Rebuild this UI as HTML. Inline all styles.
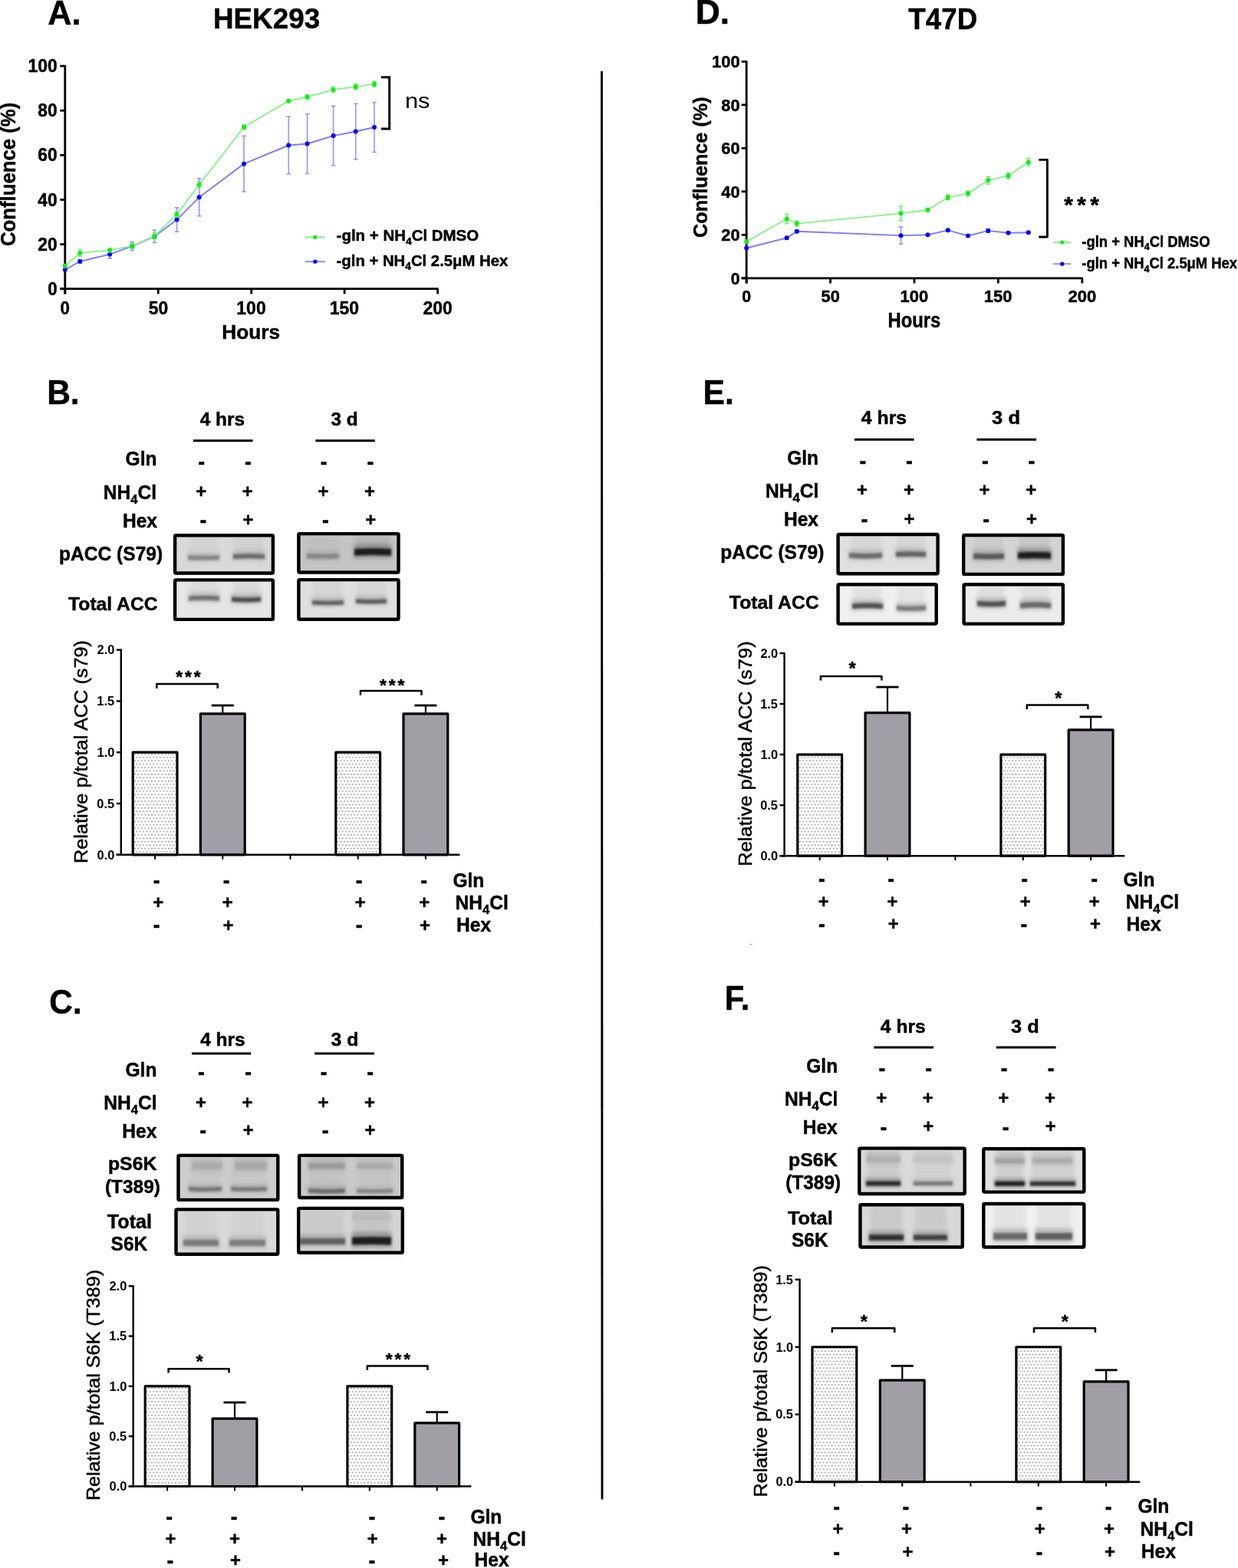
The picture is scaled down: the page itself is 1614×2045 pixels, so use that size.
<!DOCTYPE html><html><head><meta charset="utf-8"><style>html,body{margin:0;padding:0;background:#fff;}svg{display:block;}text{font-family:'Liberation Sans', Arial, Helvetica, sans-serif;}text[font-weight=bold]{stroke:#000;stroke-width:0.45px;stroke-linejoin:round;}</style></head><body>
<svg width="1614" height="2045" viewBox="0 0 1614 2045">
<defs><filter id="bl" x="-20%" y="-60%" width="140%" height="220%"><feGaussianBlur stdDeviation="1.5"/></filter><filter id="bl2" x="-30%" y="-60%" width="160%" height="220%"><feGaussianBlur stdDeviation="2.6"/></filter><pattern id="dots" width="4.4" height="8.8" patternUnits="userSpaceOnUse"><rect width="4.4" height="8.8" fill="#fcfcfc"/><rect x="1.4" y="1.5" width="1.7" height="1.4" fill="#8c8c8c"/><rect x="3.6" y="5.9" width="1.7" height="1.4" fill="#8c8c8c"/><rect x="-0.8" y="5.9" width="1.7" height="1.4" fill="#8c8c8c"/></pattern></defs>
<rect width="1614" height="2045" fill="#fff"/>
<line x1="784.50" y1="92.80" x2="785.00" y2="1955.60" stroke="#000" stroke-width="2.90"/>
<text transform="translate(62.34,31.58) scale(0.9644,1)" font-size="44.87" font-weight="bold" fill="#000">A.</text>
<text transform="translate(277.93,37.30) scale(0.9737,1)" font-size="37.83" font-weight="bold" fill="#000">HEK293</text>
<text transform="translate(906.73,31.48) scale(0.9941,1)" font-size="44.72" font-weight="bold" fill="#000">D.</text>
<text transform="translate(1184.35,38.18) scale(0.9481,1)" font-size="38.78" font-weight="bold" fill="#000">T47D</text>
<line x1="84.80" y1="85.10" x2="84.80" y2="383.40" stroke="#000" stroke-width="2.80"/>
<line x1="78.30" y1="376.70" x2="571.60" y2="376.70" stroke="#000" stroke-width="2.80"/>
<line x1="78.30" y1="376.70" x2="84.80" y2="376.70" stroke="#000" stroke-width="2.80"/>
<line x1="78.30" y1="318.58" x2="84.80" y2="318.58" stroke="#000" stroke-width="2.80"/>
<line x1="78.30" y1="260.46" x2="84.80" y2="260.46" stroke="#000" stroke-width="2.80"/>
<line x1="78.30" y1="202.34" x2="84.80" y2="202.34" stroke="#000" stroke-width="2.80"/>
<line x1="78.30" y1="144.22" x2="84.80" y2="144.22" stroke="#000" stroke-width="2.80"/>
<line x1="78.30" y1="86.10" x2="84.80" y2="86.10" stroke="#000" stroke-width="2.80"/>
<line x1="84.80" y1="376.70" x2="84.80" y2="383.40" stroke="#000" stroke-width="2.80"/>
<line x1="206.25" y1="376.70" x2="206.25" y2="383.40" stroke="#000" stroke-width="2.80"/>
<line x1="327.70" y1="376.70" x2="327.70" y2="383.40" stroke="#000" stroke-width="2.80"/>
<line x1="449.15" y1="376.70" x2="449.15" y2="383.40" stroke="#000" stroke-width="2.80"/>
<line x1="570.60" y1="376.70" x2="570.60" y2="383.40" stroke="#000" stroke-width="2.80"/>
<text transform="translate(62.28,384.84) scale(0.9460,1)" font-size="23.61" font-weight="bold" fill="#000">0</text>
<text transform="translate(49.35,326.72) scale(0.9672,1)" font-size="23.61" font-weight="bold" fill="#000">20</text>
<text transform="translate(49.34,268.60) scale(0.9675,1)" font-size="23.61" font-weight="bold" fill="#000">40</text>
<text transform="translate(49.35,210.48) scale(0.9672,1)" font-size="23.61" font-weight="bold" fill="#000">60</text>
<text transform="translate(49.35,152.36) scale(0.9673,1)" font-size="23.61" font-weight="bold" fill="#000">80</text>
<text transform="translate(36.45,94.24) scale(0.9733,1)" font-size="23.61" font-weight="bold" fill="#000">100</text>
<text transform="translate(78.60,409.54) scale(0.9460,1)" font-size="23.61" font-weight="bold" fill="#000">0</text>
<text transform="translate(193.69,409.54) scale(0.9673,1)" font-size="23.61" font-weight="bold" fill="#000">50</text>
<text transform="translate(308.34,409.54) scale(0.9733,1)" font-size="23.61" font-weight="bold" fill="#000">100</text>
<text transform="translate(429.79,409.54) scale(0.9733,1)" font-size="23.61" font-weight="bold" fill="#000">150</text>
<text transform="translate(551.53,409.54) scale(0.9735,1)" font-size="23.61" font-weight="bold" fill="#000">200</text>
<path d="M104.23 338.63V343.28M101.43 338.63H107.03M101.43 343.28H107.03" stroke="#9494ff" stroke-width="1.6" fill="none" opacity="1"/>
<path d="M143.10 326.43V336.89M140.30 326.43H145.90M140.30 336.89H145.90" stroke="#9494ff" stroke-width="1.6" fill="none" opacity="1"/>
<path d="M172.24 315.67V326.72M169.44 315.67H175.04M169.44 326.72H175.04" stroke="#9494ff" stroke-width="1.6" fill="none" opacity="1"/>
<path d="M201.39 300.27V316.55M198.59 300.27H204.19M198.59 316.55H204.19" stroke="#9494ff" stroke-width="1.6" fill="none" opacity="1"/>
<path d="M230.54 270.92V302.31M227.74 270.92H233.34M227.74 302.31H233.34" stroke="#9494ff" stroke-width="1.6" fill="none" opacity="1"/>
<path d="M259.69 232.85V281.67M256.89 232.85H262.49M256.89 281.67H262.49" stroke="#9494ff" stroke-width="1.6" fill="none" opacity="1"/>
<path d="M317.98 177.35V250.00M315.18 177.35H320.78M315.18 250.00H320.78" stroke="#9494ff" stroke-width="1.6" fill="none" opacity="1"/>
<path d="M376.28 152.07V227.04M373.48 152.07H379.08M373.48 227.04H379.08" stroke="#9494ff" stroke-width="1.6" fill="none" opacity="1"/>
<path d="M400.57 148.58V226.46M397.77 148.58H403.37M397.77 226.46H403.37" stroke="#9494ff" stroke-width="1.6" fill="none" opacity="1"/>
<path d="M434.58 138.41V215.71M431.78 138.41H437.38M431.78 215.71H437.38" stroke="#9494ff" stroke-width="1.6" fill="none" opacity="1"/>
<path d="M463.72 135.21V207.86M460.92 135.21H466.52M460.92 207.86H466.52" stroke="#9494ff" stroke-width="1.6" fill="none" opacity="1"/>
<path d="M488.01 133.47V198.56M485.21 133.47H490.81M485.21 198.56H490.81" stroke="#9494ff" stroke-width="1.6" fill="none" opacity="1"/>
<path d="M84.80 351.71 L104.23 340.96 L143.10 331.66 L172.24 321.20 L201.39 308.41 L230.54 286.61 L259.69 257.26 L317.98 213.67 L376.28 189.55 L400.57 187.52 L434.58 177.06 L463.72 171.54 L488.01 166.01" stroke="#7a7aff" stroke-width="1.9" fill="none"/>
<circle cx="84.80" cy="351.71" r="3.0" fill="#0000ff"/>
<circle cx="104.23" cy="340.96" r="3.0" fill="#0000ff"/>
<circle cx="143.10" cy="331.66" r="3.0" fill="#0000ff"/>
<circle cx="172.24" cy="321.20" r="3.0" fill="#0000ff"/>
<circle cx="201.39" cy="308.41" r="3.0" fill="#0000ff"/>
<circle cx="230.54" cy="286.61" r="3.0" fill="#0000ff"/>
<circle cx="259.69" cy="257.26" r="3.0" fill="#0000ff"/>
<circle cx="317.98" cy="213.67" r="3.0" fill="#0000ff"/>
<circle cx="376.28" cy="189.55" r="3.0" fill="#0000ff"/>
<circle cx="400.57" cy="187.52" r="3.0" fill="#0000ff"/>
<circle cx="434.58" cy="177.06" r="3.0" fill="#0000ff"/>
<circle cx="463.72" cy="171.54" r="3.0" fill="#0000ff"/>
<circle cx="488.01" cy="166.01" r="3.0" fill="#0000ff"/>
<path d="M84.80 345.02V348.51M82.00 345.02H87.60M82.00 348.51H87.60" stroke="#6ef06e" stroke-width="1.6" fill="none" opacity="1"/>
<path d="M104.23 325.55V334.27M101.43 325.55H107.03M101.43 334.27H107.03" stroke="#6ef06e" stroke-width="1.6" fill="none" opacity="1"/>
<path d="M143.10 323.81V329.04M140.30 323.81H145.90M140.30 329.04H145.90" stroke="#6ef06e" stroke-width="1.6" fill="none" opacity="1"/>
<path d="M172.24 317.42V324.39M169.44 317.42H175.04M169.44 324.39H175.04" stroke="#6ef06e" stroke-width="1.6" fill="none" opacity="1"/>
<path d="M201.39 303.76V311.90M198.59 303.76H204.19M198.59 311.90H204.19" stroke="#6ef06e" stroke-width="1.6" fill="none" opacity="1"/>
<path d="M230.54 276.15V283.13M227.74 276.15H233.34M227.74 283.13H233.34" stroke="#6ef06e" stroke-width="1.6" fill="none" opacity="1"/>
<path d="M259.69 237.21V244.77M256.89 237.21H262.49M256.89 244.77H262.49" stroke="#6ef06e" stroke-width="1.6" fill="none" opacity="1"/>
<path d="M317.98 162.82V168.63M315.18 162.82H320.78M315.18 168.63H320.78" stroke="#6ef06e" stroke-width="1.6" fill="none" opacity="1"/>
<path d="M376.28 129.98V133.47M373.48 129.98H379.08M373.48 133.47H379.08" stroke="#6ef06e" stroke-width="1.6" fill="none" opacity="1"/>
<path d="M400.57 123.88V129.11M397.77 123.88H403.37M397.77 129.11H403.37" stroke="#6ef06e" stroke-width="1.6" fill="none" opacity="1"/>
<path d="M434.58 113.42V120.39M431.78 113.42H437.38M431.78 120.39H437.38" stroke="#6ef06e" stroke-width="1.6" fill="none" opacity="1"/>
<path d="M463.72 109.64V116.61M460.92 109.64H466.52M460.92 116.61H466.52" stroke="#6ef06e" stroke-width="1.6" fill="none" opacity="1"/>
<path d="M488.01 106.15V113.13M485.21 106.15H490.81M485.21 113.13H490.81" stroke="#6ef06e" stroke-width="1.6" fill="none" opacity="1"/>
<path d="M84.80 346.77 L104.23 329.91 L143.10 326.43 L172.24 320.90 L201.39 307.83 L230.54 279.64 L259.69 240.99 L317.98 165.72 L376.28 131.72 L400.57 126.49 L434.58 116.90 L463.72 113.13 L488.01 109.64" stroke="#86f486" stroke-width="1.9" fill="none"/>
<circle cx="84.80" cy="346.77" r="3.0" fill="#14eb14"/>
<circle cx="104.23" cy="329.91" r="3.0" fill="#14eb14"/>
<circle cx="143.10" cy="326.43" r="3.0" fill="#14eb14"/>
<circle cx="172.24" cy="320.90" r="3.0" fill="#14eb14"/>
<circle cx="201.39" cy="307.83" r="3.0" fill="#14eb14"/>
<circle cx="230.54" cy="279.64" r="3.0" fill="#14eb14"/>
<circle cx="259.69" cy="240.99" r="3.0" fill="#14eb14"/>
<circle cx="317.98" cy="165.72" r="3.0" fill="#14eb14"/>
<circle cx="376.28" cy="131.72" r="3.0" fill="#14eb14"/>
<circle cx="400.57" cy="126.49" r="3.0" fill="#14eb14"/>
<circle cx="434.58" cy="116.90" r="3.0" fill="#14eb14"/>
<circle cx="463.72" cy="113.13" r="3.0" fill="#14eb14"/>
<circle cx="488.01" cy="109.64" r="3.0" fill="#14eb14"/>
<line x1="973.20" y1="79.30" x2="973.20" y2="369.50" stroke="#000" stroke-width="2.80"/>
<line x1="966.70" y1="362.80" x2="1411.80" y2="362.80" stroke="#000" stroke-width="2.80"/>
<line x1="966.70" y1="362.80" x2="973.20" y2="362.80" stroke="#000" stroke-width="2.80"/>
<line x1="966.70" y1="306.30" x2="973.20" y2="306.30" stroke="#000" stroke-width="2.80"/>
<line x1="966.70" y1="249.80" x2="973.20" y2="249.80" stroke="#000" stroke-width="2.80"/>
<line x1="966.70" y1="193.30" x2="973.20" y2="193.30" stroke="#000" stroke-width="2.80"/>
<line x1="966.70" y1="136.80" x2="973.20" y2="136.80" stroke="#000" stroke-width="2.80"/>
<line x1="966.70" y1="80.30" x2="973.20" y2="80.30" stroke="#000" stroke-width="2.80"/>
<line x1="973.20" y1="362.80" x2="973.20" y2="369.50" stroke="#000" stroke-width="2.80"/>
<line x1="1082.60" y1="362.80" x2="1082.60" y2="369.50" stroke="#000" stroke-width="2.80"/>
<line x1="1192.00" y1="362.80" x2="1192.00" y2="369.50" stroke="#000" stroke-width="2.80"/>
<line x1="1301.40" y1="362.80" x2="1301.40" y2="369.50" stroke="#000" stroke-width="2.80"/>
<line x1="1410.80" y1="362.80" x2="1410.80" y2="369.50" stroke="#000" stroke-width="2.80"/>
<text transform="translate(952.77,370.60) scale(0.9453,1)" font-size="22.62" font-weight="bold" fill="#000">0</text>
<text transform="translate(940.36,314.10) scale(0.9675,1)" font-size="22.62" font-weight="bold" fill="#000">20</text>
<text transform="translate(940.35,257.60) scale(0.9679,1)" font-size="22.62" font-weight="bold" fill="#000">40</text>
<text transform="translate(940.36,201.10) scale(0.9675,1)" font-size="22.62" font-weight="bold" fill="#000">60</text>
<text transform="translate(940.36,144.60) scale(0.9676,1)" font-size="22.62" font-weight="bold" fill="#000">80</text>
<text transform="translate(927.98,88.10) scale(0.9739,1)" font-size="22.62" font-weight="bold" fill="#000">100</text>
<text transform="translate(967.27,394.25) scale(0.9453,1)" font-size="22.62" font-weight="bold" fill="#000">0</text>
<text transform="translate(1070.56,394.25) scale(0.9676,1)" font-size="22.62" font-weight="bold" fill="#000">50</text>
<text transform="translate(1173.44,394.25) scale(0.9739,1)" font-size="22.62" font-weight="bold" fill="#000">100</text>
<text transform="translate(1282.84,394.25) scale(0.9739,1)" font-size="22.62" font-weight="bold" fill="#000">150</text>
<text transform="translate(1392.51,394.25) scale(0.9741,1)" font-size="22.62" font-weight="bold" fill="#000">200</text>
<path d="M1025.71 308.28V312.23M1022.91 308.28H1028.51M1022.91 312.23H1028.51" stroke="#9494ff" stroke-width="1.6" fill="none" opacity="1"/>
<path d="M1038.84 300.08V303.47M1036.04 300.08H1041.64M1036.04 303.47H1041.64" stroke="#9494ff" stroke-width="1.6" fill="none" opacity="1"/>
<path d="M1174.50 296.13V318.17M1171.70 296.13H1177.30M1171.70 318.17H1177.30" stroke="#9494ff" stroke-width="1.6" fill="none" opacity="1"/>
<path d="M1209.50 305.45V307.15M1206.70 305.45H1212.30M1206.70 307.15H1212.30" stroke="#9494ff" stroke-width="1.6" fill="none" opacity="1"/>
<path d="M1235.76 298.95V301.78M1232.96 298.95H1238.56M1232.96 301.78H1238.56" stroke="#9494ff" stroke-width="1.6" fill="none" opacity="1"/>
<path d="M1262.02 306.30V308.56M1259.22 306.30H1264.82M1259.22 308.56H1264.82" stroke="#9494ff" stroke-width="1.6" fill="none" opacity="1"/>
<path d="M1288.27 298.67V303.19M1285.47 298.67H1291.07M1285.47 303.19H1291.07" stroke="#9494ff" stroke-width="1.6" fill="none" opacity="1"/>
<path d="M1314.53 302.91V304.61M1311.73 302.91H1317.33M1311.73 304.61H1317.33" stroke="#9494ff" stroke-width="1.6" fill="none" opacity="1"/>
<path d="M1340.78 302.34V304.04M1337.98 302.34H1343.58M1337.98 304.04H1343.58" stroke="#9494ff" stroke-width="1.6" fill="none" opacity="1"/>
<path d="M973.20 323.53 L1025.71 310.25 L1038.84 301.78 L1174.50 307.15 L1209.50 306.30 L1235.76 300.37 L1262.02 307.43 L1288.27 300.93 L1314.53 303.76 L1340.78 303.19" stroke="#7a7aff" stroke-width="1.9" fill="none"/>
<circle cx="973.20" cy="323.53" r="3.0" fill="#0000ff"/>
<circle cx="1025.71" cy="310.25" r="3.0" fill="#0000ff"/>
<circle cx="1038.84" cy="301.78" r="3.0" fill="#0000ff"/>
<circle cx="1174.50" cy="307.15" r="3.0" fill="#0000ff"/>
<circle cx="1209.50" cy="306.30" r="3.0" fill="#0000ff"/>
<circle cx="1235.76" cy="300.37" r="3.0" fill="#0000ff"/>
<circle cx="1262.02" cy="307.43" r="3.0" fill="#0000ff"/>
<circle cx="1288.27" cy="300.93" r="3.0" fill="#0000ff"/>
<circle cx="1314.53" cy="303.76" r="3.0" fill="#0000ff"/>
<circle cx="1340.78" cy="303.19" r="3.0" fill="#0000ff"/>
<path d="M973.20 312.80V317.32M970.40 312.80H976.00M970.40 317.32H976.00" stroke="#6ef06e" stroke-width="1.6" fill="none" opacity="1"/>
<path d="M1025.71 279.18V291.61M1022.91 279.18H1028.51M1022.91 291.61H1028.51" stroke="#6ef06e" stroke-width="1.6" fill="none" opacity="1"/>
<path d="M1038.84 287.94V295.28M1036.04 287.94H1041.64M1036.04 295.28H1041.64" stroke="#6ef06e" stroke-width="1.6" fill="none" opacity="1"/>
<path d="M1174.50 269.01V287.65M1171.70 269.01H1177.30M1171.70 287.65H1177.30" stroke="#6ef06e" stroke-width="1.6" fill="none" opacity="1"/>
<path d="M1209.50 271.55V276.07M1206.70 271.55H1212.30M1206.70 276.07H1212.30" stroke="#6ef06e" stroke-width="1.6" fill="none" opacity="1"/>
<path d="M1235.76 254.04V260.82M1232.96 254.04H1238.56M1232.96 260.82H1238.56" stroke="#6ef06e" stroke-width="1.6" fill="none" opacity="1"/>
<path d="M1262.02 249.24V255.45M1259.22 249.24H1264.82M1259.22 255.45H1264.82" stroke="#6ef06e" stroke-width="1.6" fill="none" opacity="1"/>
<path d="M1288.27 230.31V239.91M1285.47 230.31H1291.07M1285.47 239.91H1291.07" stroke="#6ef06e" stroke-width="1.6" fill="none" opacity="1"/>
<path d="M1314.53 225.50V232.85M1311.73 225.50H1317.33M1311.73 232.85H1317.33" stroke="#6ef06e" stroke-width="1.6" fill="none" opacity="1"/>
<path d="M1340.78 206.86V216.47M1337.98 206.86H1343.58M1337.98 216.47H1343.58" stroke="#6ef06e" stroke-width="1.6" fill="none" opacity="1"/>
<path d="M973.20 315.06 L1025.71 285.39 L1038.84 291.61 L1174.50 278.33 L1209.50 273.81 L1235.76 257.43 L1262.02 252.34 L1288.27 235.11 L1314.53 229.18 L1340.78 211.66" stroke="#86f486" stroke-width="1.9" fill="none"/>
<circle cx="973.20" cy="315.06" r="3.0" fill="#14eb14"/>
<circle cx="1025.71" cy="285.39" r="3.0" fill="#14eb14"/>
<circle cx="1038.84" cy="291.61" r="3.0" fill="#14eb14"/>
<circle cx="1174.50" cy="278.33" r="3.0" fill="#14eb14"/>
<circle cx="1209.50" cy="273.81" r="3.0" fill="#14eb14"/>
<circle cx="1235.76" cy="257.43" r="3.0" fill="#14eb14"/>
<circle cx="1262.02" cy="252.34" r="3.0" fill="#14eb14"/>
<circle cx="1288.27" cy="235.11" r="3.0" fill="#14eb14"/>
<circle cx="1314.53" cy="229.18" r="3.0" fill="#14eb14"/>
<circle cx="1340.78" cy="211.66" r="3.0" fill="#14eb14"/>
<text transform="translate(289.31,441.52) scale(1.0239,1)" font-size="25.66" font-weight="bold" fill="#000">Hours</text>
<text transform="translate(1157.47,427.01) scale(0.8705,1)" font-size="27.37" font-weight="bold" fill="#000">Hours</text>
<text transform="translate(20.48,321.11) rotate(-90) scale(0.9505,1)" font-size="27.12" font-weight="bold" fill="#000">Confluence (%)</text>
<text transform="translate(921.96,309.99) rotate(-90) scale(0.9608,1)" font-size="26.27" font-weight="bold" fill="#000">Confluence (%)</text>
<path d="M496.9 100.8H507.7V168.1H496.9" stroke="#000" stroke-width="3" fill="none"/>
<path d="M1354.3 208.4H1365.4V309H1354.3" stroke="#000" stroke-width="2.9" fill="none" stroke-linejoin="round"/>
<text transform="translate(527.89,141.32) scale(1.0891,1)" font-size="28.36" font-weight="normal" fill="#000">ns</text>
<text transform="translate(1387.25,277.10) scale(1.0000,1)" font-size="30.00" font-weight="bold" letter-spacing="5.38">***</text>
<line x1="397.80" y1="309.40" x2="423.80" y2="309.40" stroke="#86f486" stroke-width="2.20"/>
<circle cx="410.80" cy="309.40" r="2.6" fill="#14eb14"/>
<text transform="translate(438.58,314.30) scale(1.0456,1)" font-size="19.57" font-weight="bold">-gln + NH<tspan font-size="13.30" dy="4.59">4</tspan><tspan dy="-4.59">Cl DMSO</tspan></text>
<line x1="397.80" y1="341.20" x2="423.80" y2="341.20" stroke="#9494ff" stroke-width="2.20"/>
<circle cx="410.80" cy="341.20" r="2.6" fill="#0000ff"/>
<text transform="translate(438.59,347.30) scale(0.9804,1)" font-size="20.72" font-weight="bold">-gln + NH<tspan font-size="14.09" dy="4.86">4</tspan><tspan dy="-4.86">Cl 2.5μM Hex</tspan></text>
<line x1="1373.40" y1="316.00" x2="1396.10" y2="316.00" stroke="#86f486" stroke-width="2.20"/>
<circle cx="1384.75" cy="316.00" r="2.6" fill="#14eb14"/>
<text transform="translate(1410.36,321.50) scale(0.9415,1)" font-size="19.57" font-weight="bold">-gln + NH<tspan font-size="13.30" dy="4.59">4</tspan><tspan dy="-4.59">Cl DMSO</tspan></text>
<line x1="1373.40" y1="344.20" x2="1396.10" y2="344.20" stroke="#9494ff" stroke-width="2.20"/>
<circle cx="1384.75" cy="344.20" r="2.6" fill="#0000ff"/>
<text transform="translate(1410.36,350.20) scale(0.9403,1)" font-size="19.57" font-weight="bold">-gln + NH<tspan font-size="13.30" dy="4.59">4</tspan><tspan dy="-4.59">Cl 2.5μM Hex</tspan></text>
<text transform="translate(61.16,526.58) scale(0.9595,1)" font-size="44.29" font-weight="bold" fill="#000">B.</text>
<text transform="translate(64.33,1322.24) scale(0.9550,1)" font-size="44.31" font-weight="bold" fill="#000">C.</text>
<text transform="translate(916.55,526.58) scale(0.9665,1)" font-size="44.14" font-weight="bold" fill="#000">E.</text>
<text transform="translate(944.79,1317.48) scale(0.9535,1)" font-size="44.00" font-weight="bold" fill="#000">F.</text>
<text transform="translate(260.75,555.34) scale(1.0039,1)" font-size="24.30" font-weight="bold" fill="#000">4 hrs</text>
<text transform="translate(431.51,555.34) scale(1.0155,1)" font-size="24.03" font-weight="bold" fill="#000">3 d</text>
<line x1="251.90" y1="574.80" x2="329.60" y2="574.80" stroke="#000" stroke-width="3.00"/>
<line x1="411.30" y1="574.80" x2="488.80" y2="574.80" stroke="#000" stroke-width="3.00"/>
<text transform="translate(163.57,607.30) scale(0.9750,1)" font-size="25.20" font-weight="bold">Gln</text>
<text transform="translate(134.77,650.80) scale(0.9750,1)" font-size="25.20" font-weight="bold">NH<tspan font-size="17.14" dy="5.91">4</tspan><tspan dy="-5.91">Cl</tspan></text>
<text transform="translate(159.94,687.80) scale(0.9750,1)" font-size="25.20" font-weight="bold">Hex</text>
<text transform="translate(258.16,612.30) scale(0.9194,1)" font-size="28.83" font-weight="bold" fill="#000">-</text>
<text transform="translate(318.96,612.30) scale(0.9194,1)" font-size="28.83" font-weight="bold" fill="#000">-</text>
<text transform="translate(417.86,612.30) scale(0.9194,1)" font-size="28.83" font-weight="bold" fill="#000">-</text>
<text transform="translate(478.56,612.30) scale(0.9194,1)" font-size="28.83" font-weight="bold" fill="#000">-</text>
<text transform="translate(255.31,649.07) scale(1.0269,1)" font-size="23.25" font-weight="bold" fill="#000">+</text>
<text transform="translate(315.71,649.07) scale(1.0269,1)" font-size="23.25" font-weight="bold" fill="#000">+</text>
<text transform="translate(414.61,649.07) scale(1.0269,1)" font-size="23.25" font-weight="bold" fill="#000">+</text>
<text transform="translate(475.01,649.07) scale(1.0269,1)" font-size="23.25" font-weight="bold" fill="#000">+</text>
<text transform="translate(260.56,687.80) scale(0.9194,1)" font-size="28.83" font-weight="bold" fill="#000">-</text>
<text transform="translate(316.61,685.87) scale(1.0269,1)" font-size="23.25" font-weight="bold" fill="#000">+</text>
<text transform="translate(420.06,687.80) scale(0.9194,1)" font-size="28.83" font-weight="bold" fill="#000">-</text>
<text transform="translate(476.21,685.87) scale(1.0269,1)" font-size="23.25" font-weight="bold" fill="#000">+</text>
<text transform="translate(261.15,1363.64) scale(1.0092,1)" font-size="24.30" font-weight="bold" fill="#000">4 hrs</text>
<text transform="translate(431.60,1363.64) scale(1.0223,1)" font-size="24.30" font-weight="bold" fill="#000">3 d</text>
<line x1="250.00" y1="1374.00" x2="327.20" y2="1374.00" stroke="#000" stroke-width="3.00"/>
<line x1="410.10" y1="1374.00" x2="487.80" y2="1374.00" stroke="#000" stroke-width="3.00"/>
<text transform="translate(163.47,1403.50) scale(0.9750,1)" font-size="25.20" font-weight="bold">Gln</text>
<text transform="translate(135.27,1446.60) scale(0.9750,1)" font-size="25.20" font-weight="bold">NH<tspan font-size="17.14" dy="5.91">4</tspan><tspan dy="-5.91">Cl</tspan></text>
<text transform="translate(159.34,1483.50) scale(0.9750,1)" font-size="25.20" font-weight="bold">Hex</text>
<text transform="translate(258.06,1407.80) scale(0.9194,1)" font-size="28.83" font-weight="bold" fill="#000">-</text>
<text transform="translate(319.26,1407.80) scale(0.9194,1)" font-size="28.83" font-weight="bold" fill="#000">-</text>
<text transform="translate(417.66,1407.80) scale(0.9194,1)" font-size="28.83" font-weight="bold" fill="#000">-</text>
<text transform="translate(478.16,1407.80) scale(0.9194,1)" font-size="28.83" font-weight="bold" fill="#000">-</text>
<text transform="translate(255.01,1445.67) scale(1.0269,1)" font-size="23.25" font-weight="bold" fill="#000">+</text>
<text transform="translate(315.51,1445.67) scale(1.0269,1)" font-size="23.25" font-weight="bold" fill="#000">+</text>
<text transform="translate(414.41,1445.67) scale(1.0269,1)" font-size="23.25" font-weight="bold" fill="#000">+</text>
<text transform="translate(474.91,1445.67) scale(1.0269,1)" font-size="23.25" font-weight="bold" fill="#000">+</text>
<text transform="translate(260.36,1483.70) scale(0.9194,1)" font-size="28.83" font-weight="bold" fill="#000">-</text>
<text transform="translate(316.71,1482.17) scale(1.0269,1)" font-size="23.25" font-weight="bold" fill="#000">+</text>
<text transform="translate(419.76,1483.70) scale(0.9194,1)" font-size="28.83" font-weight="bold" fill="#000">-</text>
<text transform="translate(475.61,1482.17) scale(1.0269,1)" font-size="23.25" font-weight="bold" fill="#000">+</text>
<text transform="translate(1122.75,553.33) scale(1.0120,1)" font-size="24.57" font-weight="bold" fill="#000">4 hrs</text>
<text transform="translate(1293.08,553.33) scale(1.0410,1)" font-size="24.57" font-weight="bold" fill="#000">3 d</text>
<line x1="1113.90" y1="573.30" x2="1191.60" y2="573.30" stroke="#000" stroke-width="3.00"/>
<line x1="1273.40" y1="573.30" x2="1351.10" y2="573.30" stroke="#000" stroke-width="3.00"/>
<text transform="translate(1026.17,605.60) scale(0.9750,1)" font-size="25.20" font-weight="bold">Gln</text>
<text transform="translate(997.97,648.90) scale(0.9750,1)" font-size="25.20" font-weight="bold">NH<tspan font-size="17.14" dy="5.91">4</tspan><tspan dy="-5.91">Cl</tspan></text>
<text transform="translate(1021.94,685.70) scale(0.9750,1)" font-size="25.20" font-weight="bold">Hex</text>
<text transform="translate(1120.56,610.60) scale(0.9194,1)" font-size="28.83" font-weight="bold" fill="#000">-</text>
<text transform="translate(1181.06,610.60) scale(0.9194,1)" font-size="28.83" font-weight="bold" fill="#000">-</text>
<text transform="translate(1280.06,610.60) scale(0.9194,1)" font-size="28.83" font-weight="bold" fill="#000">-</text>
<text transform="translate(1340.56,610.60) scale(0.9194,1)" font-size="28.83" font-weight="bold" fill="#000">-</text>
<text transform="translate(1117.01,647.47) scale(1.0269,1)" font-size="23.25" font-weight="bold" fill="#000">+</text>
<text transform="translate(1178.01,647.47) scale(1.0269,1)" font-size="23.25" font-weight="bold" fill="#000">+</text>
<text transform="translate(1276.61,647.47) scale(1.0269,1)" font-size="23.25" font-weight="bold" fill="#000">+</text>
<text transform="translate(1337.21,647.47) scale(1.0269,1)" font-size="23.25" font-weight="bold" fill="#000">+</text>
<text transform="translate(1122.56,686.90) scale(0.9194,1)" font-size="28.83" font-weight="bold" fill="#000">-</text>
<text transform="translate(1178.51,685.07) scale(1.0269,1)" font-size="23.25" font-weight="bold" fill="#000">+</text>
<text transform="translate(1281.26,686.90) scale(0.9194,1)" font-size="28.83" font-weight="bold" fill="#000">-</text>
<text transform="translate(1338.01,685.07) scale(1.0269,1)" font-size="23.25" font-weight="bold" fill="#000">+</text>
<text transform="translate(1147.85,1346.63) scale(1.0032,1)" font-size="24.57" font-weight="bold" fill="#000">4 hrs</text>
<text transform="translate(1318.09,1346.63) scale(1.0320,1)" font-size="24.57" font-weight="bold" fill="#000">3 d</text>
<line x1="1139.40" y1="1366.10" x2="1217.10" y2="1366.10" stroke="#000" stroke-width="3.00"/>
<line x1="1298.90" y1="1366.10" x2="1376.60" y2="1366.10" stroke="#000" stroke-width="3.00"/>
<text transform="translate(1051.27,1398.80) scale(0.9750,1)" font-size="25.20" font-weight="bold">Gln</text>
<text transform="translate(1023.07,1441.80) scale(0.9750,1)" font-size="25.20" font-weight="bold">NH<tspan font-size="17.14" dy="5.91">4</tspan><tspan dy="-5.91">Cl</tspan></text>
<text transform="translate(1046.64,1478.60) scale(0.9750,1)" font-size="25.20" font-weight="bold">Hex</text>
<text transform="translate(1145.56,1403.40) scale(0.9194,1)" font-size="28.83" font-weight="bold" fill="#000">-</text>
<text transform="translate(1206.16,1403.40) scale(0.9194,1)" font-size="28.83" font-weight="bold" fill="#000">-</text>
<text transform="translate(1304.66,1403.40) scale(0.9194,1)" font-size="28.83" font-weight="bold" fill="#000">-</text>
<text transform="translate(1365.66,1403.40) scale(0.9194,1)" font-size="28.83" font-weight="bold" fill="#000">-</text>
<text transform="translate(1142.21,1440.37) scale(1.0269,1)" font-size="23.25" font-weight="bold" fill="#000">+</text>
<text transform="translate(1202.81,1440.37) scale(1.0269,1)" font-size="23.25" font-weight="bold" fill="#000">+</text>
<text transform="translate(1301.31,1440.37) scale(1.0269,1)" font-size="23.25" font-weight="bold" fill="#000">+</text>
<text transform="translate(1361.91,1440.37) scale(1.0269,1)" font-size="23.25" font-weight="bold" fill="#000">+</text>
<text transform="translate(1147.56,1479.80) scale(0.9194,1)" font-size="28.83" font-weight="bold" fill="#000">-</text>
<text transform="translate(1203.21,1477.17) scale(1.0269,1)" font-size="23.25" font-weight="bold" fill="#000">+</text>
<text transform="translate(1306.76,1479.80) scale(0.9194,1)" font-size="28.83" font-weight="bold" fill="#000">-</text>
<text transform="translate(1362.71,1477.17) scale(1.0269,1)" font-size="23.25" font-weight="bold" fill="#000">+</text>
<text transform="translate(77.02,731.16) scale(0.9879,1)" font-size="24.88" font-weight="bold" fill="#000">pACC (S79)</text>
<text transform="translate(89.07,795.83) scale(0.9992,1)" font-size="24.71" font-weight="bold" fill="#000">Total ACC</text>
<text transform="translate(939.32,729.36) scale(0.9879,1)" font-size="24.88" font-weight="bold" fill="#000">pACC (S79)</text>
<text transform="translate(950.87,794.04) scale(1.0252,1)" font-size="24.16" font-weight="bold" fill="#000">Total ACC</text>
<text transform="translate(140.91,1526.40) scale(1.0057,1)" font-size="24.68" font-weight="bold" fill="#000">pS6K</text>
<text transform="translate(136.90,1556.48) scale(0.9885,1)" font-size="24.77" font-weight="bold" fill="#000">(T389)</text>
<text transform="translate(139.87,1601.53) scale(1.0041,1)" font-size="24.98" font-weight="bold" fill="#000">Total</text>
<text transform="translate(144.58,1631.32) scale(0.9441,1)" font-size="26.00" font-weight="bold" fill="#000">S6K</text>
<text transform="translate(1028.00,1521.22) scale(1.0135,1)" font-size="24.57" font-weight="bold" fill="#000">pS6K</text>
<text transform="translate(1024.30,1551.41) scale(0.9717,1)" font-size="25.09" font-weight="bold" fill="#000">(T389)</text>
<text transform="translate(1026.97,1596.93) scale(1.0279,1)" font-size="24.71" font-weight="bold" fill="#000">Total</text>
<text transform="translate(1031.98,1626.32) scale(0.9441,1)" font-size="26.00" font-weight="bold" fill="#000">S6K</text>
<clipPath id="c263"><rect x="225.90" y="696.10" width="132.20" height="53.60"/></clipPath>
<g clip-path="url(#c263)">
<rect x="225.90" y="696.10" width="132.20" height="53.60" fill="#d9d9d9"/>
<rect x="246.50" y="700.50" width="38.00" height="26.50" fill="#000" fill-opacity="0.031" filter="url(#bl2)"/>
<rect x="305.50" y="700.50" width="38.00" height="25.50" fill="#000" fill-opacity="0.042" filter="url(#bl2)"/>
<path d="M244.00 719.40 Q265.50 720.90 287.00 719.40 L287.00 732.60 Q265.50 734.10 244.00 732.60 Z" fill="#000" fill-opacity="0.093" filter="url(#bl2)"/>
<path d="M303.00 718.40 Q324.50 716.90 346.00 718.40 L346.00 731.60 Q324.50 730.10 303.00 731.60 Z" fill="#000" fill-opacity="0.126" filter="url(#bl2)"/>
<path d="M245.00 724.00 Q265.50 725.50 286.00 724.00 L286.00 730.00 Q265.50 731.50 245.00 730.00 Z" fill="#868686" filter="url(#bl)"/>
<path d="M304.00 723.00 Q324.50 721.50 345.00 723.00 L345.00 729.00 Q324.50 727.50 304.00 729.00 Z" fill="#696969" filter="url(#bl)"/>
</g>
<rect x="228.10" y="698.30" width="127.80" height="49.20" fill="none" stroke="#000" stroke-width="4.40" rx="1.5"/>
<clipPath id="c274"><rect x="387.20" y="693.90" width="134.50" height="54.80"/></clipPath>
<g clip-path="url(#c274)">
<rect x="387.20" y="693.90" width="134.50" height="54.80" fill="#c4c4c4"/>
<rect x="401.50" y="698.30" width="39.00" height="26.60" fill="#000" fill-opacity="0.023" filter="url(#bl2)"/>
<rect x="463.50" y="698.30" width="45.00" height="21.90" fill="#000" fill-opacity="0.067" filter="url(#bl2)"/>
<path d="M399.00 716.75 Q421.00 717.75 443.00 716.75 L443.00 731.05 Q421.00 732.05 399.00 731.05 Z" fill="#000" fill-opacity="0.068" filter="url(#bl2)"/>
<path d="M461.00 709.30 Q486.00 707.80 511.00 709.30 L511.00 729.10 Q486.00 727.60 461.00 729.10 Z" fill="#000" fill-opacity="0.200" filter="url(#bl2)"/>
<path d="M400.00 721.65 Q421.00 722.65 442.00 721.65 L442.00 728.15 Q421.00 729.15 400.00 728.15 Z" fill="#888888" filter="url(#bl)"/>
<path d="M462.00 715.70 Q486.00 714.20 510.00 715.70 L510.00 724.70 Q486.00 723.20 462.00 724.70 Z" fill="#1a1a1a" filter="url(#bl)"/>
</g>
<rect x="389.40" y="696.10" width="130.10" height="50.40" fill="none" stroke="#000" stroke-width="4.40" rx="1.5"/>
<clipPath id="c285"><rect x="225.90" y="754.20" width="132.20" height="55.90"/></clipPath>
<g clip-path="url(#c285)">
<rect x="225.90" y="754.20" width="132.20" height="55.90" fill="#e5e5e5"/>
<rect x="247.50" y="758.60" width="37.00" height="21.90" fill="#000" fill-opacity="0.043" filter="url(#bl2)"/>
<rect x="303.50" y="758.60" width="35.00" height="22.90" fill="#000" fill-opacity="0.056" filter="url(#bl2)"/>
<path d="M245.00 772.90 Q266.00 771.40 287.00 772.90 L287.00 786.10 Q266.00 784.60 245.00 786.10 Z" fill="#000" fill-opacity="0.129" filter="url(#bl2)"/>
<path d="M301.00 773.90 Q321.00 775.90 341.00 773.90 L341.00 787.10 Q321.00 789.10 301.00 787.10 Z" fill="#000" fill-opacity="0.169" filter="url(#bl2)"/>
<path d="M246.00 777.50 Q266.00 776.00 286.00 777.50 L286.00 783.50 Q266.00 782.00 246.00 783.50 Z" fill="#727272" filter="url(#bl)"/>
<path d="M302.00 778.50 Q321.00 780.50 340.00 778.50 L340.00 784.50 Q321.00 786.50 302.00 784.50 Z" fill="#4e4e4e" filter="url(#bl)"/>
</g>
<rect x="228.10" y="756.40" width="127.80" height="51.50" fill="none" stroke="#000" stroke-width="4.40" rx="1.5"/>
<clipPath id="c296"><rect x="387.20" y="753.90" width="134.50" height="56.00"/></clipPath>
<g clip-path="url(#c296)">
<rect x="387.20" y="753.90" width="134.50" height="56.00" fill="#dfdfdf"/>
<rect x="408.50" y="758.30" width="38.00" height="27.40" fill="#000" fill-opacity="0.046" filter="url(#bl2)"/>
<rect x="465.50" y="758.30" width="37.00" height="25.60" fill="#000" fill-opacity="0.047" filter="url(#bl2)"/>
<path d="M406.00 778.65 Q427.50 780.15 449.00 778.65 L449.00 790.75 Q427.50 792.25 406.00 790.75 Z" fill="#000" fill-opacity="0.138" filter="url(#bl2)"/>
<path d="M463.00 776.85 Q484.00 778.35 505.00 776.85 L505.00 788.95 Q484.00 790.45 463.00 788.95 Z" fill="#000" fill-opacity="0.142" filter="url(#bl2)"/>
<path d="M407.00 782.95 Q427.50 784.45 448.00 782.95 L448.00 788.45 Q427.50 789.95 407.00 788.45 Z" fill="#626262" filter="url(#bl)"/>
<path d="M464.00 781.15 Q484.00 782.65 504.00 781.15 L504.00 786.65 Q484.00 788.15 464.00 786.65 Z" fill="#5d5d5d" filter="url(#bl)"/>
</g>
<rect x="389.40" y="756.10" width="130.10" height="51.60" fill="none" stroke="#000" stroke-width="4.40" rx="1.5"/>
<clipPath id="c307"><rect x="230.30" y="1504.70" width="134.20" height="62.40"/></clipPath>
<g clip-path="url(#c307)">
<rect x="230.30" y="1504.70" width="134.20" height="62.40" fill="#cdcdcd"/>
<rect x="251.50" y="1509.10" width="37.00" height="11.40" fill="#000" fill-opacity="0.013" filter="url(#bl2)"/>
<rect x="307.50" y="1509.10" width="39.00" height="11.40" fill="#000" fill-opacity="0.015" filter="url(#bl2)"/>
<rect x="247.50" y="1509.10" width="40.00" height="41.50" fill="#000" fill-opacity="0.033" filter="url(#bl2)"/>
<rect x="302.50" y="1509.10" width="44.00" height="41.50" fill="#000" fill-opacity="0.030" filter="url(#bl2)"/>
<path d="M249.00 1508.50 Q270.00 1508.50 291.00 1508.50 L291.00 1530.50 Q270.00 1530.50 249.00 1530.50 Z" fill="#000" fill-opacity="0.040" filter="url(#bl2)"/>
<path d="M305.00 1508.50 Q327.00 1508.50 349.00 1508.50 L349.00 1530.50 Q327.00 1530.50 305.00 1530.50 Z" fill="#000" fill-opacity="0.044" filter="url(#bl2)"/>
<path d="M245.00 1543.55 Q267.50 1545.05 290.00 1543.55 L290.00 1555.65 Q267.50 1557.15 245.00 1555.65 Z" fill="#000" fill-opacity="0.098" filter="url(#bl2)"/>
<path d="M300.00 1543.55 Q324.50 1545.05 349.00 1543.55 L349.00 1555.65 Q324.50 1557.15 300.00 1555.65 Z" fill="#000" fill-opacity="0.091" filter="url(#bl2)"/>
<path d="M250.00 1515.50 Q270.00 1515.50 290.00 1515.50 L290.00 1525.50 Q270.00 1525.50 250.00 1525.50 Z" fill="#ababab" filter="url(#bl)"/>
<path d="M306.00 1515.50 Q327.00 1515.50 348.00 1515.50 L348.00 1525.50 Q327.00 1525.50 306.00 1525.50 Z" fill="#a8a8a8" filter="url(#bl)"/>
<path d="M246.00 1547.85 Q267.50 1549.35 289.00 1547.85 L289.00 1553.35 Q267.50 1554.85 246.00 1553.35 Z" fill="#747474" filter="url(#bl)"/>
<path d="M301.00 1547.85 Q324.50 1549.35 348.00 1547.85 L348.00 1553.35 Q324.50 1554.85 301.00 1553.35 Z" fill="#7a7a7a" filter="url(#bl)"/>
</g>
<rect x="232.50" y="1506.90" width="129.80" height="58.00" fill="none" stroke="#000" stroke-width="4.40" rx="1.5"/>
<clipPath id="c324"><rect x="387.90" y="1504.70" width="138.50" height="59.50"/></clipPath>
<g clip-path="url(#c324)">
<rect x="387.90" y="1504.70" width="138.50" height="59.50" fill="#c9c9c9"/>
<rect x="403.50" y="1509.10" width="45.00" height="11.70" fill="#000" fill-opacity="0.018" filter="url(#bl2)"/>
<rect x="466.50" y="1509.10" width="44.00" height="11.70" fill="#000" fill-opacity="0.012" filter="url(#bl2)"/>
<rect x="403.50" y="1509.10" width="45.00" height="43.80" fill="#000" fill-opacity="0.035" filter="url(#bl2)"/>
<rect x="466.50" y="1509.10" width="44.00" height="43.80" fill="#000" fill-opacity="0.025" filter="url(#bl2)"/>
<path d="M401.00 1512.10 Q426.00 1512.10 451.00 1512.10 L451.00 1527.50 Q426.00 1527.50 401.00 1527.50 Z" fill="#000" fill-opacity="0.055" filter="url(#bl2)"/>
<path d="M464.00 1512.10 Q488.50 1512.10 513.00 1512.10 L513.00 1527.50 Q488.50 1527.50 464.00 1527.50 Z" fill="#000" fill-opacity="0.035" filter="url(#bl2)"/>
<path d="M401.00 1545.85 Q426.00 1547.35 451.00 1545.85 L451.00 1557.95 Q426.00 1559.45 401.00 1557.95 Z" fill="#000" fill-opacity="0.105" filter="url(#bl2)"/>
<path d="M464.00 1546.40 Q488.50 1547.90 513.00 1546.40 L513.00 1557.40 Q488.50 1558.90 464.00 1557.40 Z" fill="#000" fill-opacity="0.074" filter="url(#bl2)"/>
<path d="M402.00 1517.30 Q426.00 1517.30 450.00 1517.30 L450.00 1524.30 Q426.00 1524.30 402.00 1524.30 Z" fill="#999999" filter="url(#bl)"/>
<path d="M465.00 1517.30 Q488.50 1517.30 512.00 1517.30 L512.00 1524.30 Q488.50 1524.30 465.00 1524.30 Z" fill="#aaaaaa" filter="url(#bl)"/>
<path d="M402.00 1550.15 Q426.00 1551.65 450.00 1550.15 L450.00 1555.65 Q426.00 1557.15 402.00 1555.65 Z" fill="#6a6a6a" filter="url(#bl)"/>
<path d="M465.00 1550.40 Q488.50 1551.90 512.00 1550.40 L512.00 1555.40 Q488.50 1556.90 465.00 1555.40 Z" fill="#838383" filter="url(#bl)"/>
</g>
<rect x="390.10" y="1506.90" width="134.10" height="55.10" fill="none" stroke="#000" stroke-width="4.40" rx="1.5"/>
<clipPath id="c341"><rect x="227.30" y="1575.20" width="137.20" height="62.70"/></clipPath>
<g clip-path="url(#c341)">
<rect x="227.30" y="1575.20" width="137.20" height="62.70" fill="#d9d9d9"/>
<rect x="240.50" y="1579.60" width="43.00" height="41.40" fill="#000" fill-opacity="0.037" filter="url(#bl2)"/>
<rect x="300.50" y="1579.60" width="44.00" height="41.40" fill="#000" fill-opacity="0.036" filter="url(#bl2)"/>
<path d="M238.00 1611.20 Q262.00 1611.20 286.00 1611.20 L286.00 1628.80 Q262.00 1628.80 238.00 1628.80 Z" fill="#000" fill-opacity="0.112" filter="url(#bl2)"/>
<path d="M298.00 1611.20 Q322.50 1611.20 347.00 1611.20 L347.00 1628.80 Q322.50 1628.80 298.00 1628.80 Z" fill="#000" fill-opacity="0.107" filter="url(#bl2)"/>
<path d="M239.00 1617.00 Q262.00 1617.00 285.00 1617.00 L285.00 1625.00 Q262.00 1625.00 239.00 1625.00 Z" fill="#797979" filter="url(#bl)"/>
<path d="M299.00 1617.00 Q322.50 1617.00 346.00 1617.00 L346.00 1625.00 Q322.50 1625.00 299.00 1625.00 Z" fill="#7d7d7d" filter="url(#bl)"/>
</g>
<rect x="229.50" y="1577.40" width="132.80" height="58.30" fill="none" stroke="#000" stroke-width="4.40" rx="1.5"/>
<clipPath id="c352"><rect x="387.00" y="1573.70" width="140.00" height="62.30"/></clipPath>
<g clip-path="url(#c352)">
<rect x="387.00" y="1573.70" width="140.00" height="62.30" fill="#d4d4d4"/>
<rect x="460.50" y="1578.10" width="48.00" height="9.80" fill="#000" fill-opacity="0.009" filter="url(#bl2)"/>
<rect x="392.50" y="1578.10" width="56.00" height="40.90" fill="#000" fill-opacity="0.045" filter="url(#bl2)"/>
<rect x="460.50" y="1578.10" width="48.00" height="40.40" fill="#000" fill-opacity="0.071" filter="url(#bl2)"/>
<path d="M458.00 1580.30 Q484.50 1580.30 511.00 1580.30 L511.00 1593.50 Q484.50 1593.50 458.00 1593.50 Z" fill="#000" fill-opacity="0.028" filter="url(#bl2)"/>
<path d="M390.00 1609.20 Q420.50 1609.20 451.00 1609.20 L451.00 1626.80 Q420.50 1626.80 390.00 1626.80 Z" fill="#000" fill-opacity="0.136" filter="url(#bl2)"/>
<path d="M458.00 1606.50 Q484.50 1605.50 511.00 1606.50 L511.00 1628.50 Q484.50 1627.50 458.00 1628.50 Z" fill="#000" fill-opacity="0.214" filter="url(#bl2)"/>
<path d="M459.00 1584.90 Q484.50 1584.90 510.00 1584.90 L510.00 1590.90 Q484.50 1590.90 459.00 1590.90 Z" fill="#bbbbbb" filter="url(#bl)"/>
<path d="M391.00 1615.00 Q420.50 1615.00 450.00 1615.00 L450.00 1623.00 Q420.50 1623.00 391.00 1623.00 Z" fill="#5f5f5f" filter="url(#bl)"/>
<path d="M459.00 1613.50 Q484.50 1612.50 510.00 1613.50 L510.00 1623.50 Q484.50 1622.50 459.00 1623.50 Z" fill="#1e1e1e" filter="url(#bl)"/>
</g>
<rect x="389.20" y="1575.90" width="135.60" height="57.90" fill="none" stroke="#000" stroke-width="4.40" rx="1.5"/>
<clipPath id="c366"><rect x="1090.40" y="694.80" width="134.40" height="55.70"/></clipPath>
<g clip-path="url(#c366)">
<rect x="1090.40" y="694.80" width="134.40" height="55.70" fill="#e0e0e0"/>
<rect x="1108.50" y="699.20" width="40.00" height="25.00" fill="#000" fill-opacity="0.045" filter="url(#bl2)"/>
<rect x="1169.50" y="699.20" width="36.00" height="23.80" fill="#000" fill-opacity="0.048" filter="url(#bl2)"/>
<path d="M1106.00 716.05 Q1128.50 718.05 1151.00 716.05 L1151.00 730.35 Q1128.50 732.35 1106.00 730.35 Z" fill="#000" fill-opacity="0.134" filter="url(#bl2)"/>
<path d="M1167.00 714.85 Q1187.50 713.85 1208.00 714.85 L1208.00 729.15 Q1187.50 728.15 1167.00 729.15 Z" fill="#000" fill-opacity="0.144" filter="url(#bl2)"/>
<path d="M1107.00 720.95 Q1128.50 722.95 1150.00 720.95 L1150.00 727.45 Q1128.50 729.45 1107.00 727.45 Z" fill="#6a6a6a" filter="url(#bl)"/>
<path d="M1168.00 719.75 Q1187.50 718.75 1207.00 719.75 L1207.00 726.25 Q1187.50 725.25 1168.00 726.25 Z" fill="#626262" filter="url(#bl)"/>
</g>
<rect x="1092.60" y="697.00" width="130.00" height="51.30" fill="none" stroke="#000" stroke-width="4.40" rx="1.5"/>
<clipPath id="c377"><rect x="1254.00" y="695.80" width="134.10" height="55.30"/></clipPath>
<g clip-path="url(#c377)">
<rect x="1254.00" y="695.80" width="134.10" height="55.30" fill="#d4d4d4"/>
<rect x="1270.50" y="700.20" width="37.00" height="25.00" fill="#000" fill-opacity="0.048" filter="url(#bl2)"/>
<rect x="1328.50" y="700.20" width="40.00" height="24.40" fill="#000" fill-opacity="0.071" filter="url(#bl2)"/>
<path d="M1268.00 716.50 Q1289.00 717.50 1310.00 716.50 L1310.00 731.90 Q1289.00 732.90 1268.00 731.90 Z" fill="#000" fill-opacity="0.144" filter="url(#bl2)"/>
<path d="M1326.00 714.25 Q1348.50 713.25 1371.00 714.25 L1371.00 732.95 Q1348.50 731.95 1326.00 732.95 Z" fill="#000" fill-opacity="0.214" filter="url(#bl2)"/>
<path d="M1269.00 721.70 Q1289.00 722.70 1309.00 721.70 L1309.00 728.70 Q1289.00 729.70 1269.00 728.70 Z" fill="#585858" filter="url(#bl)"/>
<path d="M1327.00 720.35 Q1348.50 719.35 1370.00 720.35 L1370.00 728.85 Q1348.50 727.85 1327.00 728.85 Z" fill="#1d1d1d" filter="url(#bl)"/>
</g>
<rect x="1256.20" y="698.00" width="129.70" height="50.90" fill="none" stroke="#000" stroke-width="4.40" rx="1.5"/>
<clipPath id="c388"><rect x="1090.40" y="760.10" width="132.50" height="55.70"/></clipPath>
<g clip-path="url(#c388)">
<rect x="1090.40" y="760.10" width="132.50" height="55.70" fill="#efefef"/>
<rect x="1112.50" y="764.50" width="37.00" height="26.30" fill="#000" fill-opacity="0.060" filter="url(#bl2)"/>
<rect x="1170.50" y="764.50" width="35.00" height="28.30" fill="#000" fill-opacity="0.044" filter="url(#bl2)"/>
<path d="M1110.00 782.65 Q1131.00 780.65 1152.00 782.65 L1152.00 796.95 Q1131.00 794.95 1110.00 796.95 Z" fill="#000" fill-opacity="0.181" filter="url(#bl2)"/>
<path d="M1168.00 784.65 Q1188.00 786.65 1208.00 784.65 L1208.00 798.95 Q1188.00 800.95 1168.00 798.95 Z" fill="#000" fill-opacity="0.131" filter="url(#bl2)"/>
<path d="M1111.00 787.55 Q1131.00 785.55 1151.00 787.55 L1151.00 794.05 Q1131.00 792.05 1111.00 794.05 Z" fill="#505050" filter="url(#bl)"/>
<path d="M1169.00 789.55 Q1188.00 791.55 1207.00 789.55 L1207.00 796.05 Q1188.00 798.05 1169.00 796.05 Z" fill="#7d7d7d" filter="url(#bl)"/>
</g>
<rect x="1092.60" y="762.30" width="128.10" height="51.30" fill="none" stroke="#000" stroke-width="4.40" rx="1.5"/>
<clipPath id="c399"><rect x="1254.40" y="760.10" width="133.70" height="55.70"/></clipPath>
<g clip-path="url(#c399)">
<rect x="1254.40" y="760.10" width="133.70" height="55.70" fill="#ececec"/>
<rect x="1275.50" y="764.50" width="34.00" height="22.50" fill="#000" fill-opacity="0.059" filter="url(#bl2)"/>
<rect x="1331.50" y="764.50" width="37.00" height="25.40" fill="#000" fill-opacity="0.051" filter="url(#bl2)"/>
<path d="M1273.00 778.85 Q1292.50 780.85 1312.00 778.85 L1312.00 793.15 Q1292.50 795.15 1273.00 793.15 Z" fill="#000" fill-opacity="0.178" filter="url(#bl2)"/>
<path d="M1329.00 781.20 Q1350.00 778.70 1371.00 781.20 L1371.00 796.60 Q1350.00 794.10 1329.00 796.60 Z" fill="#000" fill-opacity="0.153" filter="url(#bl2)"/>
<path d="M1274.00 783.75 Q1292.50 785.75 1311.00 783.75 L1311.00 790.25 Q1292.50 792.25 1274.00 790.25 Z" fill="#505050" filter="url(#bl)"/>
<path d="M1330.00 786.40 Q1350.00 783.90 1370.00 786.40 L1370.00 793.40 Q1350.00 790.90 1330.00 793.40 Z" fill="#676767" filter="url(#bl)"/>
</g>
<rect x="1256.60" y="762.30" width="129.30" height="51.30" fill="none" stroke="#000" stroke-width="4.40" rx="1.5"/>
<clipPath id="c410"><rect x="1118.10" y="1495.40" width="141.80" height="63.80"/></clipPath>
<g clip-path="url(#c410)">
<rect x="1118.10" y="1495.40" width="141.80" height="63.80" fill="#dadada"/>
<rect x="1131.50" y="1499.80" width="41.00" height="12.30" fill="#000" fill-opacity="0.016" filter="url(#bl2)"/>
<rect x="1192.50" y="1499.80" width="48.00" height="12.30" fill="#000" fill-opacity="0.009" filter="url(#bl2)"/>
<rect x="1130.50" y="1499.80" width="42.00" height="43.60" fill="#000" fill-opacity="0.067" filter="url(#bl2)"/>
<rect x="1192.50" y="1499.80" width="48.00" height="43.60" fill="#000" fill-opacity="0.035" filter="url(#bl2)"/>
<path d="M1129.00 1502.30 Q1152.00 1502.30 1175.00 1502.30 L1175.00 1519.90 Q1152.00 1519.90 1129.00 1519.90 Z" fill="#000" fill-opacity="0.049" filter="url(#bl2)"/>
<path d="M1190.00 1502.30 Q1216.50 1502.30 1243.00 1502.30 L1243.00 1519.90 Q1216.50 1519.90 1190.00 1519.90 Z" fill="#000" fill-opacity="0.026" filter="url(#bl2)"/>
<path d="M1128.00 1535.80 Q1151.50 1535.80 1175.00 1535.80 L1175.00 1549.00 Q1151.50 1549.00 1128.00 1549.00 Z" fill="#000" fill-opacity="0.202" filter="url(#bl2)"/>
<path d="M1190.00 1536.90 Q1216.50 1536.90 1243.00 1536.90 L1243.00 1547.90 Q1216.50 1547.90 1190.00 1547.90 Z" fill="#000" fill-opacity="0.106" filter="url(#bl2)"/>
<path d="M1130.00 1508.10 Q1152.00 1508.10 1174.00 1508.10 L1174.00 1516.10 Q1152.00 1516.10 1130.00 1516.10 Z" fill="#b0b0b0" filter="url(#bl)"/>
<path d="M1191.00 1508.10 Q1216.50 1508.10 1242.00 1508.10 L1242.00 1516.10 Q1216.50 1516.10 1191.00 1516.10 Z" fill="#c4c4c4" filter="url(#bl)"/>
<path d="M1129.00 1540.40 Q1151.50 1540.40 1174.00 1540.40 L1174.00 1546.40 Q1151.50 1546.40 1129.00 1546.40 Z" fill="#262626" filter="url(#bl)"/>
<path d="M1191.00 1540.90 Q1216.50 1540.90 1242.00 1540.90 L1242.00 1545.90 Q1216.50 1545.90 1191.00 1545.90 Z" fill="#767676" filter="url(#bl)"/>
</g>
<rect x="1120.30" y="1497.60" width="137.40" height="59.40" fill="none" stroke="#000" stroke-width="4.40" rx="1.5"/>
<clipPath id="c427"><rect x="1280.10" y="1496.10" width="135.40" height="60.70"/></clipPath>
<g clip-path="url(#c427)">
<rect x="1280.10" y="1496.10" width="135.40" height="60.70" fill="#e0e0e0"/>
<rect x="1298.50" y="1500.50" width="36.00" height="13.50" fill="#000" fill-opacity="0.023" filter="url(#bl2)"/>
<rect x="1347.50" y="1500.50" width="49.00" height="13.50" fill="#000" fill-opacity="0.020" filter="url(#bl2)"/>
<rect x="1298.50" y="1500.50" width="36.00" height="43.30" fill="#000" fill-opacity="0.073" filter="url(#bl2)"/>
<rect x="1344.50" y="1500.50" width="56.00" height="43.30" fill="#000" fill-opacity="0.065" filter="url(#bl2)"/>
<path d="M1296.00 1505.30 Q1316.50 1505.30 1337.00 1505.30 L1337.00 1520.70 Q1316.50 1520.70 1296.00 1520.70 Z" fill="#000" fill-opacity="0.069" filter="url(#bl2)"/>
<path d="M1345.00 1505.30 Q1372.00 1505.30 1399.00 1505.30 L1399.00 1520.70 Q1372.00 1520.70 1345.00 1520.70 Z" fill="#000" fill-opacity="0.060" filter="url(#bl2)"/>
<path d="M1296.00 1536.20 Q1316.50 1536.20 1337.00 1536.20 L1337.00 1549.40 Q1316.50 1549.40 1296.00 1549.40 Z" fill="#000" fill-opacity="0.219" filter="url(#bl2)"/>
<path d="M1342.00 1536.75 Q1372.50 1536.75 1403.00 1536.75 L1403.00 1548.85 Q1372.50 1548.85 1342.00 1548.85 Z" fill="#000" fill-opacity="0.195" filter="url(#bl2)"/>
<path d="M1297.00 1510.50 Q1316.50 1510.50 1336.00 1510.50 L1336.00 1517.50 Q1316.50 1517.50 1297.00 1517.50 Z" fill="#a4a4a4" filter="url(#bl)"/>
<path d="M1346.00 1510.50 Q1372.00 1510.50 1398.00 1510.50 L1398.00 1517.50 Q1372.00 1517.50 1346.00 1517.50 Z" fill="#acacac" filter="url(#bl)"/>
<path d="M1297.00 1540.80 Q1316.50 1540.80 1336.00 1540.80 L1336.00 1546.80 Q1316.50 1546.80 1297.00 1546.80 Z" fill="#1d1d1d" filter="url(#bl)"/>
<path d="M1343.00 1541.05 Q1372.50 1541.05 1402.00 1541.05 L1402.00 1546.55 Q1372.50 1546.55 1343.00 1546.55 Z" fill="#2e2e2e" filter="url(#bl)"/>
</g>
<rect x="1282.30" y="1498.30" width="131.00" height="56.30" fill="none" stroke="#000" stroke-width="4.40" rx="1.5"/>
<clipPath id="c444"><rect x="1119.30" y="1569.10" width="137.70" height="59.60"/></clipPath>
<g clip-path="url(#c444)">
<rect x="1119.30" y="1569.10" width="137.70" height="59.60" fill="#d8d8d8"/>
<rect x="1134.50" y="1573.50" width="42.00" height="40.40" fill="#000" fill-opacity="0.066" filter="url(#bl2)"/>
<rect x="1192.50" y="1573.50" width="41.00" height="40.40" fill="#000" fill-opacity="0.058" filter="url(#bl2)"/>
<path d="M1132.00 1604.65 Q1155.50 1604.65 1179.00 1604.65 L1179.00 1621.15 Q1155.50 1621.15 1132.00 1621.15 Z" fill="#000" fill-opacity="0.198" filter="url(#bl2)"/>
<path d="M1190.00 1605.20 Q1213.00 1605.20 1236.00 1605.20 L1236.00 1620.60 Q1213.00 1620.60 1190.00 1620.60 Z" fill="#000" fill-opacity="0.174" filter="url(#bl2)"/>
<path d="M1133.00 1610.15 Q1155.50 1610.15 1178.00 1610.15 L1178.00 1617.65 Q1155.50 1617.65 1133.00 1617.65 Z" fill="#2e2e2e" filter="url(#bl)"/>
<path d="M1191.00 1610.40 Q1213.00 1610.40 1235.00 1610.40 L1235.00 1617.40 Q1213.00 1617.40 1191.00 1617.40 Z" fill="#414141" filter="url(#bl)"/>
</g>
<rect x="1121.50" y="1571.30" width="133.30" height="55.20" fill="none" stroke="#000" stroke-width="4.40" rx="1.5"/>
<clipPath id="c455"><rect x="1280.10" y="1567.80" width="135.40" height="60.90"/></clipPath>
<g clip-path="url(#c455)">
<rect x="1280.10" y="1567.80" width="135.40" height="60.90" fill="#f0f0f0"/>
<rect x="1296.50" y="1572.20" width="41.00" height="40.40" fill="#000" fill-opacity="0.053" filter="url(#bl2)"/>
<rect x="1351.50" y="1572.20" width="45.00" height="40.40" fill="#000" fill-opacity="0.057" filter="url(#bl2)"/>
<path d="M1294.00 1601.70 Q1317.00 1601.70 1340.00 1601.70 L1340.00 1621.50 Q1317.00 1621.50 1294.00 1621.50 Z" fill="#000" fill-opacity="0.158" filter="url(#bl2)"/>
<path d="M1349.00 1601.70 Q1374.00 1601.70 1399.00 1601.70 L1399.00 1621.50 Q1374.00 1621.50 1349.00 1621.50 Z" fill="#000" fill-opacity="0.172" filter="url(#bl2)"/>
<path d="M1295.00 1608.10 Q1317.00 1608.10 1339.00 1608.10 L1339.00 1617.10 Q1317.00 1617.10 1295.00 1617.10 Z" fill="#6a6a6a" filter="url(#bl)"/>
<path d="M1350.00 1608.10 Q1374.00 1608.10 1398.00 1608.10 L1398.00 1617.10 Q1374.00 1617.10 1350.00 1617.10 Z" fill="#5e5e5e" filter="url(#bl)"/>
</g>
<rect x="1282.30" y="1570.00" width="131.00" height="56.50" fill="none" stroke="#000" stroke-width="4.40" rx="1.5"/>
<rect x="173.20" y="981.20" width="57.80" height="133.60" fill="url(#dots)" stroke="#000" stroke-width="3.20" stroke-linejoin="round"/>
<line x1="290.30" y1="930.83" x2="290.30" y2="920.01" stroke="#000" stroke-width="2.20"/>
<line x1="275.80" y1="920.01" x2="304.80" y2="920.01" stroke="#000" stroke-width="2.80"/>
<rect x="261.40" y="930.83" width="57.80" height="183.97" fill="#a19fa5" stroke="#000" stroke-width="3.20" stroke-linejoin="round"/>
<rect x="437.80" y="981.20" width="57.80" height="133.60" fill="url(#dots)" stroke="#000" stroke-width="3.20" stroke-linejoin="round"/>
<line x1="554.90" y1="930.83" x2="554.90" y2="920.01" stroke="#000" stroke-width="2.20"/>
<line x1="540.40" y1="920.01" x2="569.40" y2="920.01" stroke="#000" stroke-width="2.80"/>
<rect x="526.00" y="930.83" width="57.80" height="183.97" fill="#a19fa5" stroke="#000" stroke-width="3.20" stroke-linejoin="round"/>
<line x1="157.80" y1="846.60" x2="157.80" y2="1116.00" stroke="#000" stroke-width="2.40"/>
<line x1="151.80" y1="1114.80" x2="599.40" y2="1114.80" stroke="#000" stroke-width="2.40"/>
<line x1="151.80" y1="1114.80" x2="157.80" y2="1114.80" stroke="#000" stroke-width="2.40"/>
<line x1="151.80" y1="1048.00" x2="157.80" y2="1048.00" stroke="#000" stroke-width="2.40"/>
<line x1="151.80" y1="981.20" x2="157.80" y2="981.20" stroke="#000" stroke-width="2.40"/>
<line x1="151.80" y1="914.40" x2="157.80" y2="914.40" stroke="#000" stroke-width="2.40"/>
<line x1="151.80" y1="847.60" x2="157.80" y2="847.60" stroke="#000" stroke-width="2.40"/>
<line x1="202.10" y1="1114.80" x2="202.10" y2="1120.80" stroke="#000" stroke-width="2.00"/>
<line x1="290.30" y1="1114.80" x2="290.30" y2="1120.80" stroke="#000" stroke-width="2.00"/>
<line x1="378.50" y1="1114.80" x2="378.50" y2="1120.80" stroke="#000" stroke-width="2.00"/>
<line x1="466.70" y1="1114.80" x2="466.70" y2="1120.80" stroke="#000" stroke-width="2.00"/>
<line x1="554.90" y1="1114.80" x2="554.90" y2="1120.80" stroke="#000" stroke-width="2.00"/>
<text transform="translate(126.59,1120.53) scale(0.9900,1)" font-size="16.62" font-weight="bold" fill="#000" style="stroke:none">0.0</text>
<text transform="translate(126.34,1053.73) scale(0.9900,1)" font-size="16.62" font-weight="bold" fill="#000" style="stroke:none">0.5</text>
<text transform="translate(126.59,986.93) scale(0.9900,1)" font-size="16.62" font-weight="bold" fill="#000" style="stroke:none">1.0</text>
<text transform="translate(126.34,920.13) scale(0.9761,1)" font-size="16.86" font-weight="bold" fill="#000" style="stroke:none">1.5</text>
<text transform="translate(126.59,853.33) scale(0.9900,1)" font-size="16.62" font-weight="bold" fill="#000" style="stroke:none">2.0</text>
<path d="M204.30 897.80V891.90H283.70V897.80" stroke="#000" stroke-width="2.5" fill="none" stroke-linejoin="round"/>
<text transform="translate(229.29,890.21) scale(1.0000,1)" font-size="22.70" font-weight="bold" letter-spacing="2.95">***</text>
<path d="M470.00 906.80V901.00H549.50V906.80" stroke="#000" stroke-width="2.5" fill="none" stroke-linejoin="round"/>
<text transform="translate(494.99,900.66) scale(1.0000,1)" font-size="22.70" font-weight="bold" letter-spacing="2.95">***</text>
<text transform="translate(113.99,1126.03) rotate(-90) scale(1.0203,1)" font-size="24.81" font-weight="normal" fill="#000" stroke="#000" stroke-width="0.5">Relative p/total ACC (s79)</text>
<text transform="translate(199.76,1157.80) scale(0.9194,1)" font-size="28.83" font-weight="bold" fill="#000">-</text>
<text transform="translate(290.76,1157.80) scale(0.9194,1)" font-size="28.83" font-weight="bold" fill="#000">-</text>
<text transform="translate(463.66,1157.80) scale(0.9194,1)" font-size="28.83" font-weight="bold" fill="#000">-</text>
<text transform="translate(548.26,1157.80) scale(0.9194,1)" font-size="28.83" font-weight="bold" fill="#000">-</text>
<text transform="translate(199.31,1185.27) scale(1.0269,1)" font-size="23.25" font-weight="bold" fill="#000">+</text>
<text transform="translate(289.81,1185.27) scale(1.0269,1)" font-size="23.25" font-weight="bold" fill="#000">+</text>
<text transform="translate(462.71,1185.27) scale(1.0269,1)" font-size="23.25" font-weight="bold" fill="#000">+</text>
<text transform="translate(546.31,1185.27) scale(1.0269,1)" font-size="23.25" font-weight="bold" fill="#000">+</text>
<text transform="translate(199.76,1216.10) scale(0.9194,1)" font-size="28.83" font-weight="bold" fill="#000">-</text>
<text transform="translate(290.71,1214.67) scale(1.0269,1)" font-size="23.25" font-weight="bold" fill="#000">+</text>
<text transform="translate(463.66,1216.10) scale(0.9194,1)" font-size="28.83" font-weight="bold" fill="#000">-</text>
<text transform="translate(546.91,1214.67) scale(1.0269,1)" font-size="23.25" font-weight="bold" fill="#000">+</text>
<text transform="translate(590.42,1156.60) scale(0.9750,1)" font-size="25.20" font-weight="bold">Gln</text>
<text transform="translate(593.50,1185.70) scale(0.9750,1)" font-size="25.20" font-weight="bold">NH<tspan font-size="17.14" dy="5.91">4</tspan><tspan dy="-5.91">Cl</tspan></text>
<text transform="translate(595.10,1214.50) scale(0.9750,1)" font-size="25.20" font-weight="bold">Hex</text>
<rect x="189.20" y="1807.90" width="57.80" height="130.60" fill="url(#dots)" stroke="#000" stroke-width="3.20" stroke-linejoin="round"/>
<line x1="306.00" y1="1850.21" x2="306.00" y2="1829.06" stroke="#000" stroke-width="2.20"/>
<line x1="291.50" y1="1829.06" x2="320.50" y2="1829.06" stroke="#000" stroke-width="2.80"/>
<rect x="277.10" y="1850.21" width="57.80" height="88.29" fill="#a19fa5" stroke="#000" stroke-width="3.20" stroke-linejoin="round"/>
<rect x="452.90" y="1807.90" width="57.80" height="130.60" fill="url(#dots)" stroke="#000" stroke-width="3.20" stroke-linejoin="round"/>
<line x1="569.70" y1="1855.96" x2="569.70" y2="1841.73" stroke="#000" stroke-width="2.20"/>
<line x1="555.20" y1="1841.73" x2="584.20" y2="1841.73" stroke="#000" stroke-width="2.80"/>
<rect x="540.80" y="1855.96" width="57.80" height="82.54" fill="#a19fa5" stroke="#000" stroke-width="3.20" stroke-linejoin="round"/>
<line x1="173.70" y1="1676.30" x2="173.70" y2="1939.70" stroke="#000" stroke-width="2.40"/>
<line x1="167.70" y1="1938.50" x2="614.40" y2="1938.50" stroke="#000" stroke-width="2.40"/>
<line x1="167.70" y1="1938.50" x2="173.70" y2="1938.50" stroke="#000" stroke-width="2.40"/>
<line x1="167.70" y1="1873.20" x2="173.70" y2="1873.20" stroke="#000" stroke-width="2.40"/>
<line x1="167.70" y1="1807.90" x2="173.70" y2="1807.90" stroke="#000" stroke-width="2.40"/>
<line x1="167.70" y1="1742.60" x2="173.70" y2="1742.60" stroke="#000" stroke-width="2.40"/>
<line x1="167.70" y1="1677.30" x2="173.70" y2="1677.30" stroke="#000" stroke-width="2.40"/>
<line x1="218.10" y1="1938.50" x2="218.10" y2="1944.50" stroke="#000" stroke-width="2.00"/>
<line x1="306.00" y1="1938.50" x2="306.00" y2="1944.50" stroke="#000" stroke-width="2.00"/>
<line x1="393.90" y1="1938.50" x2="393.90" y2="1944.50" stroke="#000" stroke-width="2.00"/>
<line x1="481.80" y1="1938.50" x2="481.80" y2="1944.50" stroke="#000" stroke-width="2.00"/>
<line x1="569.70" y1="1938.50" x2="569.70" y2="1944.50" stroke="#000" stroke-width="2.00"/>
<text transform="translate(142.49,1944.23) scale(0.9900,1)" font-size="16.62" font-weight="bold" fill="#000" style="stroke:none">0.0</text>
<text transform="translate(142.24,1878.93) scale(0.9900,1)" font-size="16.62" font-weight="bold" fill="#000" style="stroke:none">0.5</text>
<text transform="translate(142.49,1813.63) scale(0.9900,1)" font-size="16.62" font-weight="bold" fill="#000" style="stroke:none">1.0</text>
<text transform="translate(142.24,1748.33) scale(0.9761,1)" font-size="16.86" font-weight="bold" fill="#000" style="stroke:none">1.5</text>
<text transform="translate(142.49,1683.03) scale(0.9900,1)" font-size="16.62" font-weight="bold" fill="#000" style="stroke:none">2.0</text>
<path d="M219.60 1790.40V1785.30H298.60V1790.40" stroke="#000" stroke-width="2.5" fill="none" stroke-linejoin="round"/>
<text transform="translate(255.38,1783.92) scale(1.0073,1)" font-size="23.51" font-weight="bold" letter-spacing="0.00">*</text>
<path d="M478.80 1787.00V1781.40H557.50V1787.00" stroke="#000" stroke-width="2.5" fill="none" stroke-linejoin="round"/>
<text transform="translate(502.79,1780.16) scale(1.0000,1)" font-size="22.70" font-weight="bold" letter-spacing="2.95">***</text>
<text transform="translate(129.95,1957.01) rotate(-90) scale(1.0427,1)" font-size="24.06" font-weight="normal" fill="#000" stroke="#000" stroke-width="0.5">Relative p/total S6K (T389)</text>
<text transform="translate(216.16,1987.60) scale(0.9194,1)" font-size="28.83" font-weight="bold" fill="#000">-</text>
<text transform="translate(300.66,1987.60) scale(0.9194,1)" font-size="28.83" font-weight="bold" fill="#000">-</text>
<text transform="translate(480.46,1987.60) scale(0.9194,1)" font-size="28.83" font-weight="bold" fill="#000">-</text>
<text transform="translate(571.56,1987.60) scale(0.9194,1)" font-size="28.83" font-weight="bold" fill="#000">-</text>
<text transform="translate(215.51,2014.67) scale(1.0269,1)" font-size="23.25" font-weight="bold" fill="#000">+</text>
<text transform="translate(298.91,2014.67) scale(1.0269,1)" font-size="23.25" font-weight="bold" fill="#000">+</text>
<text transform="translate(478.71,2014.67) scale(1.0269,1)" font-size="23.25" font-weight="bold" fill="#000">+</text>
<text transform="translate(569.01,2014.67) scale(1.0269,1)" font-size="23.25" font-weight="bold" fill="#000">+</text>
<text transform="translate(217.56,2045.20) scale(0.9194,1)" font-size="28.83" font-weight="bold" fill="#000">-</text>
<text transform="translate(300.01,2043.17) scale(1.0269,1)" font-size="23.25" font-weight="bold" fill="#000">+</text>
<text transform="translate(480.56,2045.20) scale(0.9194,1)" font-size="28.83" font-weight="bold" fill="#000">-</text>
<text transform="translate(571.01,2043.17) scale(1.0269,1)" font-size="23.25" font-weight="bold" fill="#000">+</text>
<text transform="translate(613.42,1986.70) scale(0.9750,1)" font-size="25.20" font-weight="bold">Gln</text>
<text transform="translate(616.60,2015.60) scale(0.9750,1)" font-size="25.20" font-weight="bold">NH<tspan font-size="17.14" dy="5.91">4</tspan><tspan dy="-5.91">Cl</tspan></text>
<text transform="translate(618.60,2043.00) scale(0.9750,1)" font-size="25.20" font-weight="bold">Hex</text>
<rect x="1039.80" y="984.05" width="57.80" height="132.15" fill="url(#dots)" stroke="#000" stroke-width="3.20" stroke-linejoin="round"/>
<line x1="1157.00" y1="929.60" x2="1157.00" y2="896.04" stroke="#000" stroke-width="2.20"/>
<line x1="1142.50" y1="896.04" x2="1171.50" y2="896.04" stroke="#000" stroke-width="2.80"/>
<rect x="1128.10" y="929.60" width="57.80" height="186.60" fill="#a19fa5" stroke="#000" stroke-width="3.20" stroke-linejoin="round"/>
<rect x="1304.90" y="984.05" width="57.80" height="132.15" fill="url(#dots)" stroke="#000" stroke-width="3.20" stroke-linejoin="round"/>
<line x1="1422.10" y1="951.81" x2="1422.10" y2="934.89" stroke="#000" stroke-width="2.20"/>
<line x1="1407.60" y1="934.89" x2="1436.60" y2="934.89" stroke="#000" stroke-width="2.80"/>
<rect x="1393.20" y="951.81" width="57.80" height="164.39" fill="#a19fa5" stroke="#000" stroke-width="3.20" stroke-linejoin="round"/>
<line x1="1022.60" y1="850.90" x2="1022.60" y2="1117.40" stroke="#000" stroke-width="2.40"/>
<line x1="1016.60" y1="1116.20" x2="1466.30" y2="1116.20" stroke="#000" stroke-width="2.40"/>
<line x1="1016.60" y1="1116.20" x2="1022.60" y2="1116.20" stroke="#000" stroke-width="2.40"/>
<line x1="1016.60" y1="1050.12" x2="1022.60" y2="1050.12" stroke="#000" stroke-width="2.40"/>
<line x1="1016.60" y1="984.05" x2="1022.60" y2="984.05" stroke="#000" stroke-width="2.40"/>
<line x1="1016.60" y1="917.98" x2="1022.60" y2="917.98" stroke="#000" stroke-width="2.40"/>
<line x1="1016.60" y1="851.90" x2="1022.60" y2="851.90" stroke="#000" stroke-width="2.40"/>
<line x1="1068.70" y1="1116.20" x2="1068.70" y2="1122.20" stroke="#000" stroke-width="2.00"/>
<line x1="1157.00" y1="1116.20" x2="1157.00" y2="1122.20" stroke="#000" stroke-width="2.00"/>
<line x1="1245.40" y1="1116.20" x2="1245.40" y2="1122.20" stroke="#000" stroke-width="2.00"/>
<line x1="1333.80" y1="1116.20" x2="1333.80" y2="1122.20" stroke="#000" stroke-width="2.00"/>
<line x1="1422.10" y1="1116.20" x2="1422.10" y2="1122.20" stroke="#000" stroke-width="2.00"/>
<text transform="translate(991.39,1121.93) scale(0.9900,1)" font-size="16.62" font-weight="bold" fill="#000" style="stroke:none">0.0</text>
<text transform="translate(991.14,1055.86) scale(0.9900,1)" font-size="16.62" font-weight="bold" fill="#000" style="stroke:none">0.5</text>
<text transform="translate(991.39,989.78) scale(0.9900,1)" font-size="16.62" font-weight="bold" fill="#000" style="stroke:none">1.0</text>
<text transform="translate(991.14,923.71) scale(0.9761,1)" font-size="16.86" font-weight="bold" fill="#000" style="stroke:none">1.5</text>
<text transform="translate(991.39,857.63) scale(0.9900,1)" font-size="16.62" font-weight="bold" fill="#000" style="stroke:none">2.0</text>
<path d="M1069.90 887.60V881.90H1149.40V887.60" stroke="#000" stroke-width="2.5" fill="none" stroke-linejoin="round"/>
<text transform="translate(1106.38,880.27) scale(1.0073,1)" font-size="23.51" font-weight="bold" letter-spacing="0.00">*</text>
<path d="M1338.80 925.00V919.50H1418.30V925.00" stroke="#000" stroke-width="2.5" fill="none" stroke-linejoin="round"/>
<text transform="translate(1375.28,918.67) scale(1.0073,1)" font-size="23.51" font-weight="bold" letter-spacing="0.00">*</text>
<text transform="translate(979.83,1129.74) rotate(-90) scale(1.0378,1)" font-size="24.60" font-weight="normal" fill="#000" stroke="#000" stroke-width="0.5">Relative p/total ACC (s79)</text>
<text transform="translate(1066.96,1156.40) scale(0.9194,1)" font-size="28.83" font-weight="bold" fill="#000">-</text>
<text transform="translate(1157.26,1156.40) scale(0.9194,1)" font-size="28.83" font-weight="bold" fill="#000">-</text>
<text transform="translate(1331.26,1156.40) scale(0.9194,1)" font-size="28.83" font-weight="bold" fill="#000">-</text>
<text transform="translate(1422.26,1156.40) scale(0.9194,1)" font-size="28.83" font-weight="bold" fill="#000">-</text>
<text transform="translate(1066.71,1184.27) scale(1.0269,1)" font-size="23.25" font-weight="bold" fill="#000">+</text>
<text transform="translate(1156.61,1184.27) scale(1.0269,1)" font-size="23.25" font-weight="bold" fill="#000">+</text>
<text transform="translate(1329.81,1184.27) scale(1.0269,1)" font-size="23.25" font-weight="bold" fill="#000">+</text>
<text transform="translate(1419.71,1184.27) scale(1.0269,1)" font-size="23.25" font-weight="bold" fill="#000">+</text>
<text transform="translate(1066.96,1215.40) scale(0.9194,1)" font-size="28.83" font-weight="bold" fill="#000">-</text>
<text transform="translate(1157.71,1213.47) scale(1.0269,1)" font-size="23.25" font-weight="bold" fill="#000">+</text>
<text transform="translate(1330.46,1215.40) scale(0.9194,1)" font-size="28.83" font-weight="bold" fill="#000">-</text>
<text transform="translate(1420.91,1213.47) scale(1.0269,1)" font-size="23.25" font-weight="bold" fill="#000">+</text>
<text transform="translate(1464.52,1155.60) scale(0.9750,1)" font-size="25.20" font-weight="bold">Gln</text>
<text transform="translate(1467.80,1185.20) scale(0.9750,1)" font-size="25.20" font-weight="bold">NH<tspan font-size="17.14" dy="5.91">4</tspan><tspan dy="-5.91">Cl</tspan></text>
<text transform="translate(1468.60,1214.40) scale(0.9750,1)" font-size="25.20" font-weight="bold">Hex</text>
<rect x="1059.00" y="1756.77" width="57.80" height="175.93" fill="url(#dots)" stroke="#000" stroke-width="3.20" stroke-linejoin="round"/>
<line x1="1176.30" y1="1800.22" x2="1176.30" y2="1781.40" stroke="#000" stroke-width="2.20"/>
<line x1="1161.80" y1="1781.40" x2="1190.80" y2="1781.40" stroke="#000" stroke-width="2.80"/>
<rect x="1147.40" y="1800.22" width="57.80" height="132.48" fill="#a19fa5" stroke="#000" stroke-width="3.20" stroke-linejoin="round"/>
<rect x="1324.90" y="1756.77" width="57.80" height="175.93" fill="url(#dots)" stroke="#000" stroke-width="3.20" stroke-linejoin="round"/>
<line x1="1442.10" y1="1801.81" x2="1442.10" y2="1786.85" stroke="#000" stroke-width="2.20"/>
<line x1="1427.60" y1="1786.85" x2="1456.60" y2="1786.85" stroke="#000" stroke-width="2.80"/>
<rect x="1413.20" y="1801.81" width="57.80" height="130.89" fill="#a19fa5" stroke="#000" stroke-width="3.20" stroke-linejoin="round"/>
<line x1="1042.60" y1="1667.80" x2="1042.60" y2="1933.90" stroke="#000" stroke-width="2.40"/>
<line x1="1036.60" y1="1932.70" x2="1486.30" y2="1932.70" stroke="#000" stroke-width="2.40"/>
<line x1="1036.60" y1="1932.70" x2="1042.60" y2="1932.70" stroke="#000" stroke-width="2.40"/>
<line x1="1036.60" y1="1844.73" x2="1042.60" y2="1844.73" stroke="#000" stroke-width="2.40"/>
<line x1="1036.60" y1="1756.77" x2="1042.60" y2="1756.77" stroke="#000" stroke-width="2.40"/>
<line x1="1036.60" y1="1668.80" x2="1042.60" y2="1668.80" stroke="#000" stroke-width="2.40"/>
<line x1="1087.90" y1="1932.70" x2="1087.90" y2="1938.70" stroke="#000" stroke-width="2.00"/>
<line x1="1176.30" y1="1932.70" x2="1176.30" y2="1938.70" stroke="#000" stroke-width="2.00"/>
<line x1="1265.40" y1="1932.70" x2="1265.40" y2="1938.70" stroke="#000" stroke-width="2.00"/>
<line x1="1353.80" y1="1932.70" x2="1353.80" y2="1938.70" stroke="#000" stroke-width="2.00"/>
<line x1="1442.10" y1="1932.70" x2="1442.10" y2="1938.70" stroke="#000" stroke-width="2.00"/>
<text transform="translate(1011.39,1938.43) scale(0.9900,1)" font-size="16.62" font-weight="bold" fill="#000" style="stroke:none">0.0</text>
<text transform="translate(1011.14,1850.47) scale(0.9900,1)" font-size="16.62" font-weight="bold" fill="#000" style="stroke:none">0.5</text>
<text transform="translate(1011.39,1762.50) scale(0.9900,1)" font-size="16.62" font-weight="bold" fill="#000" style="stroke:none">1.0</text>
<text transform="translate(1011.14,1674.53) scale(0.9761,1)" font-size="16.86" font-weight="bold" fill="#000" style="stroke:none">1.5</text>
<path d="M1084.90 1738.00V1732.20H1166.30V1738.00" stroke="#000" stroke-width="2.5" fill="none" stroke-linejoin="round"/>
<text transform="translate(1121.68,1731.77) scale(1.0073,1)" font-size="23.51" font-weight="bold" letter-spacing="0.00">*</text>
<path d="M1348.00 1738.00V1732.20H1427.90V1738.00" stroke="#000" stroke-width="2.5" fill="none" stroke-linejoin="round"/>
<text transform="translate(1383.68,1731.77) scale(1.0073,1)" font-size="23.51" font-weight="bold" letter-spacing="0.00">*</text>
<text transform="translate(999.95,1952.42) rotate(-90) scale(1.0469,1)" font-size="24.06" font-weight="normal" fill="#000" stroke="#000" stroke-width="0.5">Relative p/total S6K (T389)</text>
<text transform="translate(1086.16,1975.40) scale(0.9194,1)" font-size="28.83" font-weight="bold" fill="#000">-</text>
<text transform="translate(1176.46,1975.40) scale(0.9194,1)" font-size="28.83" font-weight="bold" fill="#000">-</text>
<text transform="translate(1350.46,1975.40) scale(0.9194,1)" font-size="28.83" font-weight="bold" fill="#000">-</text>
<text transform="translate(1440.76,1975.40) scale(0.9194,1)" font-size="28.83" font-weight="bold" fill="#000">-</text>
<text transform="translate(1085.51,2002.27) scale(1.0269,1)" font-size="23.25" font-weight="bold" fill="#000">+</text>
<text transform="translate(1175.01,2002.27) scale(1.0269,1)" font-size="23.25" font-weight="bold" fill="#000">+</text>
<text transform="translate(1348.71,2002.27) scale(1.0269,1)" font-size="23.25" font-weight="bold" fill="#000">+</text>
<text transform="translate(1439.01,2002.27) scale(1.0269,1)" font-size="23.25" font-weight="bold" fill="#000">+</text>
<text transform="translate(1086.16,2034.20) scale(0.9194,1)" font-size="28.83" font-weight="bold" fill="#000">-</text>
<text transform="translate(1176.61,2032.27) scale(1.0269,1)" font-size="23.25" font-weight="bold" fill="#000">+</text>
<text transform="translate(1350.46,2034.20) scale(0.9194,1)" font-size="28.83" font-weight="bold" fill="#000">-</text>
<text transform="translate(1440.11,2032.27) scale(1.0269,1)" font-size="23.25" font-weight="bold" fill="#000">+</text>
<text transform="translate(1483.42,1973.30) scale(0.9750,1)" font-size="25.20" font-weight="bold">Gln</text>
<text transform="translate(1486.60,2002.90) scale(0.9750,1)" font-size="25.20" font-weight="bold">NH<tspan font-size="17.14" dy="5.91">4</tspan><tspan dy="-5.91">Cl</tspan></text>
<text transform="translate(1487.80,2032.00) scale(0.9750,1)" font-size="25.20" font-weight="bold">Hex</text>
<rect x="977.3" y="1230.9" width="3.6" height="1.2" fill="#aaa"/>
</svg></body></html>
